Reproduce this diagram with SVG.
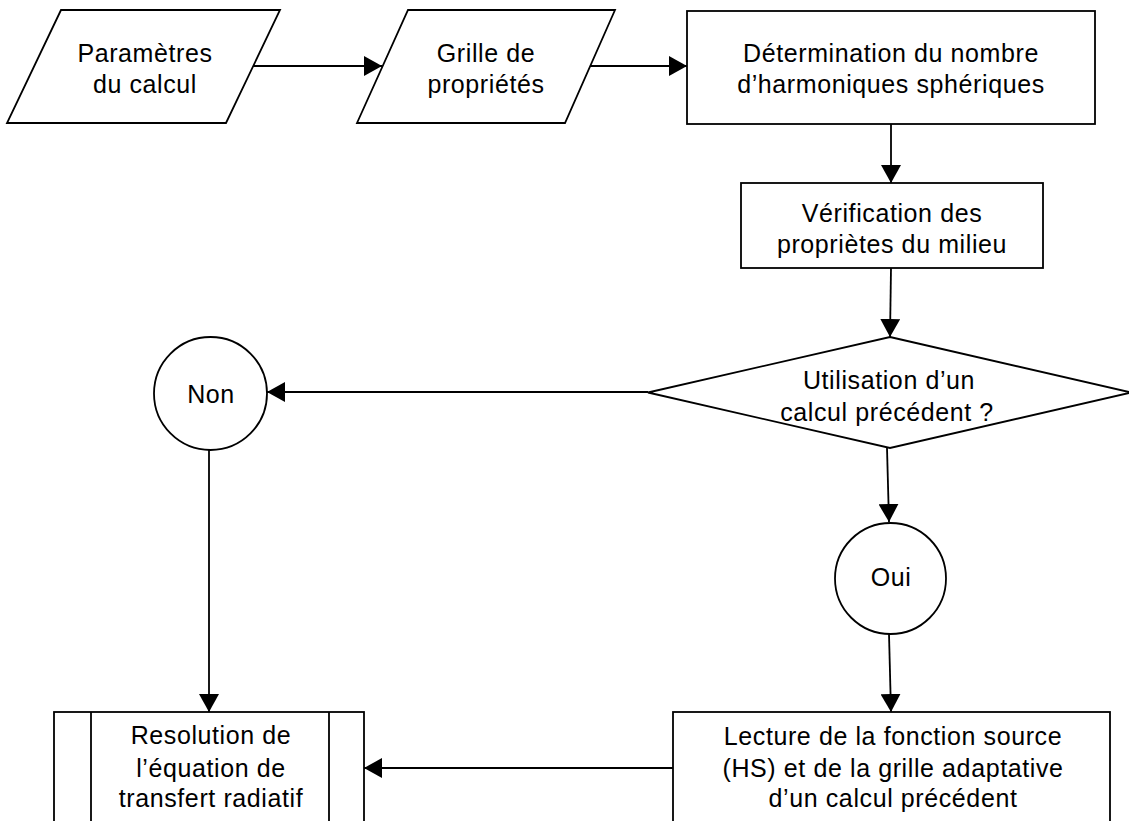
<svg xmlns="http://www.w3.org/2000/svg" width="1129" height="821" viewBox="0 0 1129 821">
<style>
.s{fill:#fff;stroke:#000;stroke-width:1.8}
.c{fill:none;stroke:#000;stroke-width:1.8;marker-end:url(#ah)}
text{font-family:"Liberation Sans",Arial,sans-serif;font-size:25px;fill:#000;text-anchor:middle;letter-spacing:0.6px}
</style>
<defs>
<marker id="ah" viewBox="0 0 18 20" refX="18" refY="10" markerWidth="18" markerHeight="20" markerUnits="userSpaceOnUse" orient="auto">
<path d="M0,0 L18,10 L0,20 z" fill="#000"/>
</marker>
</defs>
<rect width="1129" height="821" fill="#fff"/>
<g id="connectors">
<line class="c" x1="253" y1="66" x2="382" y2="66"/>
<line class="c" x1="590" y1="66" x2="687" y2="66"/>
<line class="c" x1="891" y1="124" x2="891" y2="183"/>
<line class="c" x1="891" y1="268" x2="890" y2="337"/>
<line class="c" x1="648" y1="392" x2="267" y2="392"/>
<line class="c" x1="209" y1="450" x2="209" y2="712"/>
<line class="c" x1="887" y1="448" x2="889" y2="522"/>
<line class="c" x1="889" y1="634" x2="891" y2="712"/>
<line class="c" x1="673" y1="768" x2="364" y2="768"/>
</g>
<g id="n1">
<polygon class="s" points="61,10 280,10 226,123 7,123"/>
<text x="145" y="62">Paramètres</text>
<text x="145" y="93">du calcul</text>
</g>
<g id="n2">
<polygon class="s" points="408,10 615,10 565,123 357,123"/>
<text x="486" y="62">Grille de</text>
<text x="486" y="93">propriétés</text>
</g>
<g id="n3">
<rect class="s" x="687" y="11" width="408" height="113"/>
<text x="891" y="62">Détermination du nombre</text>
<text x="891" y="93">d’harmoniques sphériques</text>
</g>
<g id="n4">
<rect class="s" x="741" y="183" width="302" height="85"/>
<text x="892" y="222">Vérification des</text>
<text x="892" y="253">propriètes du milieu</text>
</g>
<g id="n5">
<polygon class="s" points="890,337 1131,392.5 890,448 648,392.5"/>
<text x="889" y="389">Utilisation d’un</text>
<text x="887" y="421">calcul précédent ?</text>
</g>
<g id="n6">
<circle class="s" cx="210.5" cy="393.5" r="56.5"/>
<text x="211" y="403">Non</text>
</g>
<g id="n7">
<circle class="s" cx="890.5" cy="578.5" r="55.5"/>
<text x="891" y="586">Oui</text>
</g>
<g id="n8">
<rect class="s" x="54" y="712" width="310" height="125"/>
<line class="s" x1="91" y1="712" x2="91" y2="837"/>
<line class="s" x1="329" y1="712" x2="329" y2="837"/>
<text x="211" y="744">Resolution de</text>
<text x="211" y="777">l’équation de</text>
<text x="211" y="807">transfert radiatif</text>
</g>
<g id="n9">
<rect class="s" x="673" y="712" width="437" height="125"/>
<text x="893" y="745">Lecture de la fonction source</text>
<text x="893" y="777">(HS) et de la grille adaptative</text>
<text x="893" y="807">d’un calcul précédent</text>
</g>
</svg>
